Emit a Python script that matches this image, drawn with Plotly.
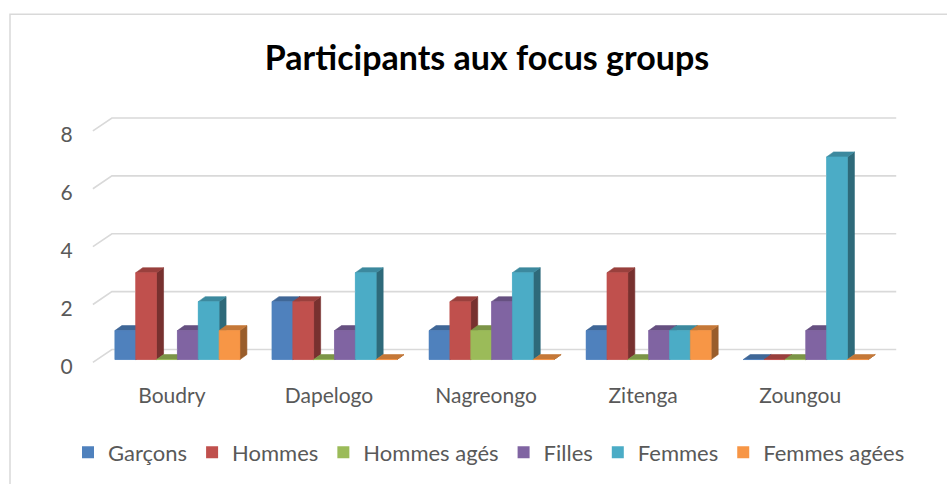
import plotly.graph_objects as go

# ---------------- data ----------------
categories = ["Boudry", "Dapelogo", "Nagreongo", "Zitenga", "Zoungou"]
series_names = ["Garçons", "Hommes", "Hommes agés", "Filles", "Femmes", "Femmes agées"]
garcons = [1, 2, 1, 1, 0]
hommes = [3, 2, 2, 3, 0]
hommes_ages = [0, 0, 1, 0, 0]
filles = [1, 1, 2, 1, 1]
femmes = [2, 3, 3, 1, 7]
femmes_agees = [1, 0, 0, 1, 0]
y_tick_values = [0, 2, 4, 6, 8]
title_text = "Participants aux focus groups"

series_values = [garcons, hommes, hommes_ages, filles, femmes, femmes_agees]
colors = ["#4F81BD", "#C0504D", "#9BBB59", "#8064A2", "#4BACC6", "#F79646"]

# ---------------- layout / style constants ----------------
W, H = 947, 484
ML, MR, MT, MB = 91, 47, 111, 109.5
X_RANGE = [-0.55, 4.6]
Y_RANGE = [-0.5, 8.586]
PLOT_W = W - ML - MR
PLOT_H = H - MT - MB
GROUP = 0.796                 # width of a category group (axis units)
BW = GROUP / len(series_names)
DX, DY = 0.0446, 0.172        # 3-D depth offset (axis units)
GRID_X_FRONT, GRID_X_BACK, GRID_X_END = -0.538, -0.417, 4.576
GRID_Y_FRONT, GRID_Y_BACK = -0.1, 0.345
GRID_COLOR = "#D9D9D9"
TEXT_COLOR = "#595959"
FONT = "Lato"


def shade(hex_color, f):
    h = hex_color.lstrip("#")
    r, g, b = (int(h[i:i + 2], 16) for i in (0, 2, 4))
    return "rgb(%d,%d,%d)" % (r * f, g * f, b * f)


fig = go.Figure()

# front faces as real bars (also the legend entries)
for j, (name, vals) in enumerate(zip(series_names, series_values)):
    xs = [i - GROUP / 2 + (j + 0.5) * BW for i in range(len(categories))]
    fig.add_trace(go.Bar(
        x=xs, y=vals, width=BW, name=name, marker=dict(color=colors[j], line=dict(width=0)),
        customdata=categories, hovertemplate="%{customdata}<br>" + name + ": %{y}<extra></extra>",
    ))

# back wall gridlines
gx, gy = [], []
for v in y_tick_values:
    gx += [GRID_X_FRONT, GRID_X_BACK, GRID_X_END, None]
    gy += [v + GRID_Y_FRONT, v + GRID_Y_BACK, v + GRID_Y_BACK, None]
fig.add_trace(go.Scatter(x=gx, y=gy, mode="lines", line=dict(color=GRID_COLOR, width=1.6),
                         hoverinfo="skip", showlegend=False))

# 3-D faces: side, top, then front (repainted so overlaps stack correctly)
for j, vals in enumerate(series_values):
    sx, sy, tx, ty, fx, fy = [], [], [], [], [], []
    for i, v in enumerate(vals):
        xl = i - GROUP / 2 + j * BW
        xr = xl + BW
        sx += [xr, xr + DX, xr + DX, xr, xr, None]
        sy += [0, DY, v + DY, v, 0, None]
        tx += [xl, xr, xr + DX, xl + DX, xl, None]
        ty += [v, v, v + DY, v + DY, v, None]
        fx += [xl, xr, xr, xl, xl, None]
        fy += [0, 0, v, v, 0, None]
    for px, py, col in ((sx, sy, shade(colors[j], 0.62)),
                        (tx, ty, shade(colors[j], 0.8)),
                        (fx, fy, colors[j])):
        fig.add_trace(go.Scatter(x=px, y=py, mode="lines", fill="toself", fillcolor=col,
                                 line=dict(color=col, width=0.6), hoverinfo="skip",
                                 showlegend=False))


def px_to_paper_x(p):
    return (p - ML) / PLOT_W


def px_to_paper_y(p):
    return (H - MB - p) / PLOT_H


# chart border
fig.add_shape(type="rect", xref="paper", yref="paper",
              x0=px_to_paper_x(10), x1=px_to_paper_x(980),
              y0=px_to_paper_y(520), y1=px_to_paper_y(14),
              line=dict(color=GRID_COLOR, width=1.5), layer="below")

fig.update_layout(
    width=W, height=H,
    margin=dict(l=ML, r=MR, t=MT, b=MB, autoexpand=False),
    paper_bgcolor="white", plot_bgcolor="white",
    barmode="overlay",
    font=dict(family=FONT, color=TEXT_COLOR),
    title=dict(text="<b>" + title_text + "</b>", font=dict(family=FONT, size=34, color="black"),
               x=487 / W, xref="container", xanchor="center",
               y=1 - 58 / H, yref="container", yanchor="middle"),
    xaxis=dict(range=X_RANGE, showgrid=False, zeroline=False, showline=False,
               tickvals=[i - 0.035 for i in range(len(categories))], ticktext=categories,
               ticks="outside", ticklen=3, tickcolor="rgba(0,0,0,0)",
               tickfont=dict(size=21, color=TEXT_COLOR, family=FONT), fixedrange=True),
    yaxis=dict(range=Y_RANGE, showgrid=False, zeroline=False, showline=False,
               tickvals=[v - 0.24 for v in y_tick_values], ticktext=[str(v) for v in y_tick_values],
               ticks="outside", ticklen=13, tickcolor="rgba(0,0,0,0)",
               tickfont=dict(size=21, color=TEXT_COLOR, family=FONT), fixedrange=True),
    legend=dict(orientation="h", xref="paper", yref="paper",
                x=px_to_paper_x(68), xanchor="left", y=px_to_paper_y(453), yanchor="middle",
                font=dict(size=22, color=TEXT_COLOR, family=FONT), itemclick=False,
                itemdoubleclick=False),
    showlegend=True,
)

fig.write_html("out.html", config={"displayModeBar": False},
               post_script="document.body.style.margin='0';")
